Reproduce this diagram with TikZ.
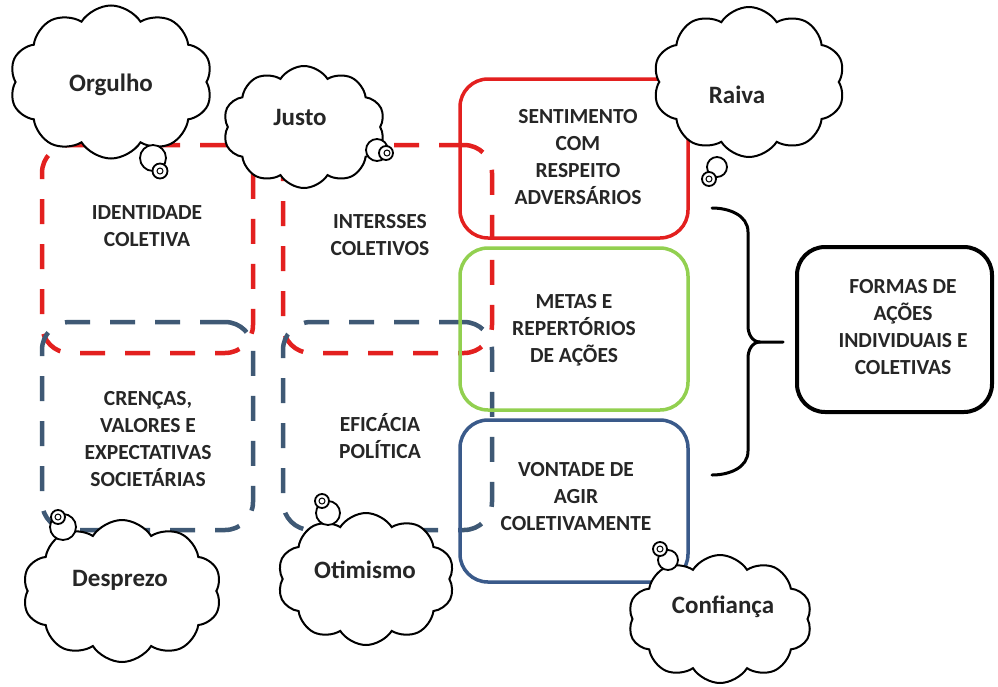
\documentclass[tikz,border=0pt]{standalone}
\usepackage{fontspec}
\setmainfont{Carlito}
\usetikzlibrary{shapes.symbols}
\definecolor{cred}{HTML}{E3201F}
\definecolor{cgreen}{HTML}{92D050}
\definecolor{cblue}{HTML}{3A5A8A}
\definecolor{cdblue}{HTML}{3F5975}
\definecolor{ctext}{HTML}{262626}
\begin{document}
\begin{tikzpicture}[x=1pt,y=-1pt,
  dashbox/.style={draw=#1, line width=4.5pt, dash pattern=on 25pt off 20pt, rounded corners=28pt, rectangle, inner sep=0pt},
  solidbox/.style={draw=#1, line width=3.5pt, rounded corners=28pt, rectangle, inner sep=0pt},
  boxtxt/.style={text=ctext, align=center, font=\fontsize{21.5}{27}\selectfont\bfseries, inner sep=0pt},
  cloudtxt/.style={text=ctext, font=\fontsize{25}{28}\selectfont\bfseries, inner sep=0pt},
  thought/.style={cloud, cloud puffs=10, cloud puff arc=115, cloud ignores aspect, draw=black, fill=white, line width=2pt, inner sep=0pt},
  bub/.style={circle, draw=black, fill=white, line width=1.8pt, inner sep=0pt, minimum size=#1},
  dot/.style={circle, draw=black, line width=1pt, minimum size=6pt, inner sep=0pt}
]
\useasboundingbox (0,0) rectangle (998,686);
\fill[white] (0,0) rectangle (998,686);

% dashed rounded frames
\node[dashbox=cred, minimum width=211pt, minimum height=208pt] (fidr) at (147.5,249) {};
\node[dashbox=cred, minimum width=209pt, minimum height=208pt] (fint) at (387.5,249) {};
\node[dashbox=cdblue, minimum width=211pt, minimum height=208pt] (fcre) at (147.5,426) {};
\node[dashbox=cdblue, minimum width=209pt, minimum height=208pt] (fefi) at (387.5,426) {};

% frame labels
\node[boxtxt] (tidr) at (147,226) {IDENTIDADE\\COLETIVA};
\node[boxtxt] (tint) at (380,235) {INTERSSES\\COLETIVOS};
\node[boxtxt] (tcre) at (148,439) {CRENÇAS,\\VALORES E\\EXPECTATIVAS\\SOCIETÁRIAS};
\node[boxtxt] (tefi) at (380,436) {EFICÁCIA\\POLÍTICA};

% solid boxes
\node[solidbox=cred, minimum width=228pt, minimum height=159pt] (bsen) at (574,158.5) {};
\node[solidbox=cgreen, minimum width=228pt, minimum height=162pt] (bmet) at (574,329) {};
\node[solidbox=cblue, minimum width=228pt, minimum height=162pt] (bvon) at (574,501) {};
\node[boxtxt] (tsen) at (578,157) {SENTIMENTO\\COM\\RESPEITO\\ADVERSÁRIOS};
\node[boxtxt] (tmet) at (574,330) {METAS E\\REPERTÓRIOS\\DE AÇÕES};
\node[boxtxt] (tvon) at (576,497) {VONTADE DE\\AGIR\\COLETIVAMENTE};

% result box
\node[solidbox=black, line width=4pt, minimum width=195pt, minimum height=165pt] (bfor) at (894.5,329.5) {};
\node[boxtxt] (tfor) at (903,327) {FORMAS DE\\AÇÕES\\INDIVIDUAIS E\\COLETIVAS};

% brace
\coordinate (brtop) at (712,208);
\coordinate (brbot) at (712,475);
\coordinate (brmid) at (760,342);
\coordinate (brend) at (783,342);
\draw[line width=3pt, line cap=round, line join=round]
  (brtop) to[out=0,in=90] (748,232) -- (748,326) to[out=-90,in=180] (brmid) -- (brend);
\draw[line width=3pt, line cap=round, line join=round]
  (brmid) to[out=180,in=90] (748,358) -- (748,451) to[out=-90,in=0] (brbot);

% clouds
\node[thought, minimum width=203pt, minimum height=153pt] (corg) at (111,82) {};
\node[bub=26pt] (corgp) at (153,158) {};
\node[bub=15pt] (corgq) at (160,171) {};
\node[dot] (corgr) at (160,171) {};
\node[cloudtxt] (torg) at (111,85) {Orgulho};

\node[thought, minimum width=162pt, minimum height=122pt] (cjus) at (304,127) {};
\node[bub=22pt] (cjusp) at (377,150) {};
\node[bub=14pt] (cjusq) at (386,153) {};
\node[dot] (cjusr) at (387,153) {};
\node[cloudtxt] (tjus) at (300,117) {Justo};

\node[thought, minimum width=192pt, minimum height=150pt] (crai) at (749,82) {};
\node[bub=20pt] (craip) at (717,167) {};
\node[bub=14pt] (craiq) at (709,179) {};
\node[dot] (crair) at (709,179) {};
\node[cloudtxt] (trai) at (737,95) {Raiva};

\node[thought, minimum width=199pt, minimum height=142pt] (cdes) at (122,591) {};
\node[bub=26pt] (cdesp) at (63,527) {};
\node[bub=14pt] (cdesq) at (58,517) {};
\node[dot] (cdesr) at (58,517) {};
\node[cloudtxt] (tdes) at (120,580) {Desprezo};

\node[thought, minimum width=177pt, minimum height=132pt] (coti) at (366,579) {};
\node[bub=24pt] (cotip) at (328,513) {};
\node[bub=14pt] (cotiq) at (322,501) {};
\node[dot] (cotir) at (322,501) {};
\node[cloudtxt] (toti) at (365,570) {Otimismo};

\node[thought, minimum width=184pt, minimum height=128pt] (ccon) at (720,619) {};
\node[bub=20pt] (cconp) at (668,560) {};
\node[bub=14pt] (cconq) at (660,549) {};
\node[dot] (cconr) at (660,549) {};
\node[cloudtxt] (tcon) at (723,607) {Confiança};
\end{tikzpicture}
\end{document}
